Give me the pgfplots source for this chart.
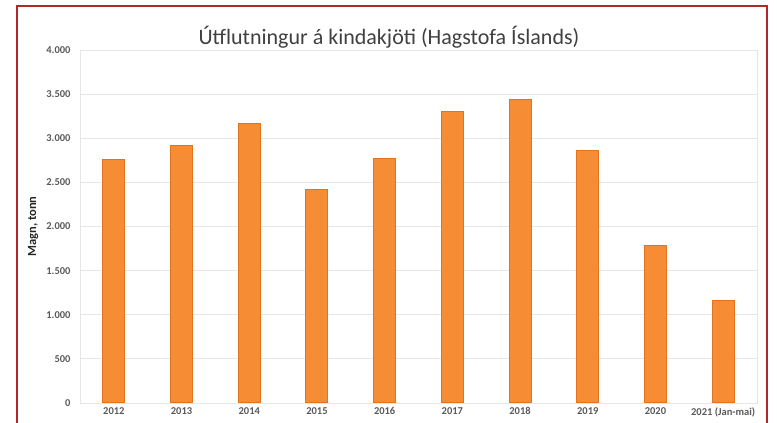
\documentclass[border=0pt]{standalone}
\usepackage{pgfplots}
\pgfplotsset{compat=1.18}
\usepackage{fontspec}
\setmainfont{Carlito}
\definecolor{txt}{HTML}{595959}
\definecolor{ttl}{HTML}{404040}
\definecolor{barfill}{HTML}{F68D34}
\definecolor{baredge}{HTML}{E3731C}
\definecolor{frame}{HTML}{B0282B}
\definecolor{gridc}{HTML}{E6E6E6}
\begin{document}
\begin{tikzpicture}[x=1pt,y=1pt]
\path[use as bounding box] (-80,-20) rectangle (697,403);
\begin{axis}[
  at={(0,0)}, anchor=south west,
  scale only axis, width=677pt, height=353pt,
  xmin=-0.5, xmax=9.5, ymin=0, ymax=4000,
  xtick={0,...,9},
  xticklabels={2012,2013,2014,2015,2016,2017,2018,2019,2020,{2021 (Jan-mai)}},
  ytick={0,500,...,4000},
  /pgf/number format/.cd, 1000 sep={.}, assume math mode=true,
  /pgfplots/.cd,
  ymajorgrids, grid style={gridc, line width=0.8pt},
  major tick length=0pt,
  axis line style={gridc, line width=0.8pt},
  tick label style={font=\fontsize{10.5}{12}\selectfont\bfseries, text=txt},
  xticklabel style={yshift=-1pt},
  yticklabel style={xshift=-6pt},
  ylabel={Magn, tonn},
  ylabel style={font=\fontsize{12.5}{14}\selectfont\bfseries, text=black!85, at={(axis description cs:-0.0694,0.5)}, anchor=center},
  ybar, bar width=22pt,
]
\addplot[fill=barfill, draw=baredge, line width=1pt] coordinates {
(0,2760) (1,2920) (2,3170) (3,2420) (4,2770) (5,3300) (6,3440) (7,2860) (8,1790) (9,1160)
};
\end{axis}
\node[text=ttl, font=\fontsize{22}{24}\selectfont] at (309,366) {Útflutningur á kindakjöti (Hagstofa Íslands)};
\draw[frame, line width=1.6pt] (-63,-25) -- (-63,397) -- (687,397) -- (687,-25);
\end{tikzpicture}
\end{document}
